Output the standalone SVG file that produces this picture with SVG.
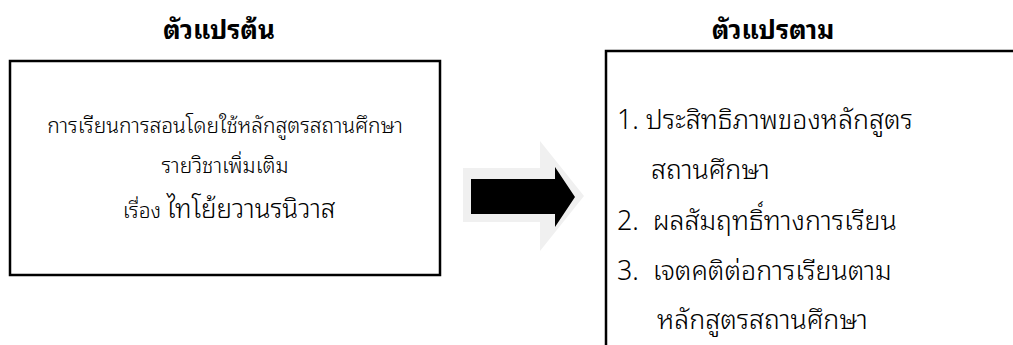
<svg xmlns="http://www.w3.org/2000/svg" width="1013" height="345" viewBox="0 0 1013 345">
<style>
text{font-family:"Noto Sans Thai Looped","Noto Sans Thai","Noto Sans","DejaVu Sans","Liberation Sans",sans-serif;fill:#000}
.title{font-size:26px;font-weight:bold;text-anchor:middle}
.box{fill:#fff;stroke:#000;stroke-width:2.5}
.l{font-size:21px;font-weight:300;text-anchor:middle}
.r{font-size:26.8px;font-weight:300}
</style>
<rect width="1013" height="345" fill="#fff"/>
<g id="title-left"><text class="title" x="219" y="39">ตัวแปรต้น</text></g>
<g id="title-right"><text class="title" x="773" y="39">ตัวแปรตาม</text></g>
<g id="independent">
<rect class="box" x="10" y="61" width="430" height="214"/>
<text class="l" x="225" y="133">การเรียนการสอนโดยใช้หลักสูตรสถานศึกษา</text>
<text class="l" x="225" y="173">รายวิชาเพิ่มเติม</text>
<text class="l" x="229" y="218"><tspan font-size="21">เรื่อง </tspan><tspan font-size="26">ไทโย้ยวานรนิวาส</tspan></text>
</g>
<g id="connectors">
<polygon points="463,168 540,168 540,141 584,196 540,251 540,222 463,222" fill="#f0f0f0"/>
<polygon points="471,179 555,179 555,167 575,197 555,227 555,214 471,214" fill="#000"/>
</g>
<g id="dependent">
<path d="M606,345 V51 H1013" fill="none" stroke="#000" stroke-width="2.5"/>
<text class="r" x="617" y="129">1. ประสิทธิภาพของหลักสูตร</text>
<text class="r" x="651" y="179">สถานศึกษา</text>
<text class="r" x="617" y="230" xml:space="preserve">2.  ผลสัมฤทธิ์ทางการเรียน</text>
<text class="r" x="617" y="280" xml:space="preserve">3.  เจตคติต่อการเรียนตาม</text>
<text class="r" x="657" y="329">หลักสูตรสถานศึกษา</text>
</g>
</svg>
